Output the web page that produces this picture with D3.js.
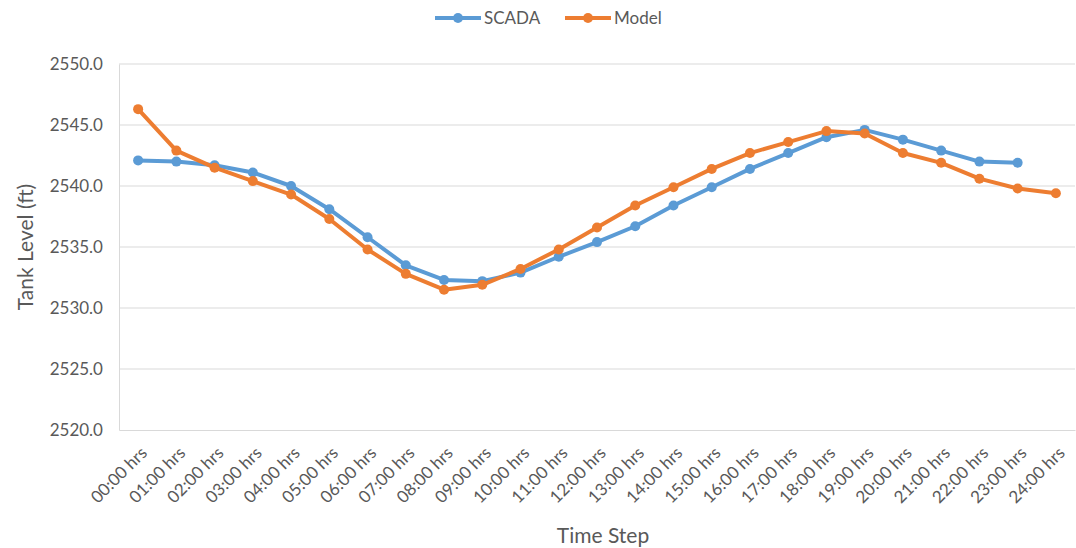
<!DOCTYPE html>
<html>
<head>
<meta charset="utf-8">
<script src="https://cdn.jsdelivr.net/npm/d3@7"></script>
<style>
  html, body { margin: 0; padding: 0; background: #fff; }
  svg { display: block; font-family: Lato, "Open Sans", sans-serif; }
</style>
</head>
<body>
<svg id="chart" width="1076" height="548"></svg>
<script>
// Hourly time steps over one day
const timeSteps = ["00:00 hrs","01:00 hrs","02:00 hrs","03:00 hrs","04:00 hrs","05:00 hrs","06:00 hrs",
  "07:00 hrs","08:00 hrs","09:00 hrs","10:00 hrs","11:00 hrs","12:00 hrs","13:00 hrs","14:00 hrs",
  "15:00 hrs","16:00 hrs","17:00 hrs","18:00 hrs","19:00 hrs","20:00 hrs","21:00 hrs","22:00 hrs",
  "23:00 hrs","24:00 hrs"];

// Measured tank level (ft); no reading at 24:00
const scadaLevel = [2542.1, 2542.0, 2541.7, 2541.1, 2540.0, 2538.1, 2535.8, 2533.5, 2532.3, 2532.2,
  2532.9, 2534.2, 2535.4, 2536.7, 2538.4, 2539.9, 2541.4, 2542.7, 2544.0, 2544.6, 2543.8, 2542.9,
  2542.0, 2541.9, null];

// Simulated tank level (ft)
const modelLevel = [2546.3, 2542.9, 2541.5, 2540.4, 2539.3, 2537.3, 2534.8, 2532.8, 2531.5, 2531.9,
  2533.2, 2534.8, 2536.6, 2538.4, 2539.9, 2541.4, 2542.7, 2543.6, 2544.5, 2544.3, 2542.7, 2541.9,
  2540.6, 2539.8, 2539.4];

const yTicks = [2520, 2525, 2530, 2535, 2540, 2545, 2550];

const series = [
  { name: "SCADA", values: scadaLevel, color: "#5B9BD5" },
  { name: "Model", values: modelLevel, color: "#ED7D31" }
];

const svg = d3.select("#chart");
const margin = { left: 119, right: 1, top: 64, bottom: 118 };
const W = 1076, H = 548;
const textColor = "#595959";
const gridColor = "#d9d9d9";

const x = d3.scaleBand().domain(timeSteps).range([margin.left, W - margin.right]);
const y = d3.scaleLinear().domain([2520, 2550]).range([H - margin.bottom, margin.top]);
const cx = d => x(d) + x.bandwidth() / 2;

// Horizontal gridlines
svg.append("g")
  .selectAll("line")
  .data(yTicks.slice(1))
  .join("line")
  .attr("x1", margin.left).attr("x2", W - margin.right)
  .attr("y1", d => y(d)).attr("y2", d => y(d))
  .attr("stroke", gridColor).attr("stroke-width", 1);

// Y axis
const yAxis = svg.append("g")
  .attr("transform", `translate(${margin.left},0)`)
  .call(d3.axisLeft(y).tickValues(yTicks).tickFormat(d3.format(".1f")).tickSize(0).tickPadding(16));
yAxis.select(".domain").attr("stroke", gridColor);
yAxis.selectAll("text").attr("fill", textColor).attr("font-size", 17).attr("font-family", "Lato, sans-serif");

// X axis
const xAxis = svg.append("g")
  .attr("transform", `translate(0,${y(2520)})`)
  .call(d3.axisBottom(x).tickSize(0).tickPadding(0));
xAxis.select(".domain").attr("stroke", gridColor);
xAxis.selectAll("text")
  .attr("fill", textColor).attr("font-size", 17).attr("font-family", "Lato, sans-serif")
  .attr("text-anchor", "end")
  .attr("dy", null)
  .attr("y", 0)
  .attr("transform", "translate(10,24) rotate(-45)");

// Series lines and markers
const line = d3.line()
  .defined(d => d.v != null)
  .x(d => cx(d.t))
  .y(d => y(d.v));

series.forEach(s => {
  const pts = timeSteps.map((t, i) => ({ t, v: s.values[i] }));
  const g = svg.append("g");
  g.append("path")
    .datum(pts)
    .attr("fill", "none")
    .attr("stroke", s.color)
    .attr("stroke-width", 4)
    .attr("stroke-linejoin", "round")
    .attr("d", line);
  g.selectAll("circle")
    .data(pts.filter(d => d.v != null))
    .join("circle")
    .attr("cx", d => cx(d.t))
    .attr("cy", d => y(d.v))
    .attr("r", 5)
    .attr("fill", s.color);
});

// Axis titles
svg.append("text")
  .attr("x", 603)
  .attr("y", 543)
  .attr("text-anchor", "middle")
  .attr("fill", textColor)
  .attr("font-size", 21)
  .text("Time Step");

svg.append("text")
  .attr("transform", `translate(33,${(margin.top + H - margin.bottom) / 2}) rotate(-90)`)
  .attr("text-anchor", "middle")
  .attr("fill", textColor)
  .attr("font-size", 21)
  .text("Tank Level (ft)");

// Legend
const legendItems = [
  { s: series[0], x: 435 },
  { s: series[1], x: 565 }
];
const lg = svg.append("g");
legendItems.forEach(({ s, x: lx }) => {
  lg.append("line")
    .attr("x1", lx).attr("x2", lx + 46)
    .attr("y1", 18).attr("y2", 18)
    .attr("stroke", s.color).attr("stroke-width", 4);
  lg.append("circle")
    .attr("cx", lx + 23).attr("cy", 18).attr("r", 5).attr("fill", s.color);
  lg.append("text")
    .attr("x", lx + 49).attr("y", 18).attr("dy", "0.35em")
    .attr("fill", textColor).attr("font-size", 17)
    .text(s.name);
});
</script>
</body>
</html>
